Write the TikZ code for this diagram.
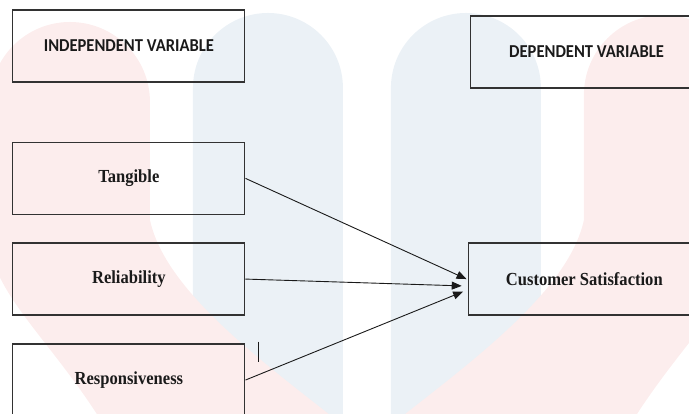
\documentclass[tikz,border=0pt]{standalone}
\usepackage{fontspec}
\setmainfont{Liberation Serif}[FakeStretch=0.9]
\newfontfamily\calibfont{Carlito}[FakeStretch=0.91]
\usetikzlibrary{arrows,arrows.meta,calc}
\definecolor{wm_red}{RGB}{252, 237, 237}
\definecolor{wm_blue}{RGB}{235, 241, 246}
\definecolor{box_line}{RGB}{50, 50, 50}
\definecolor{txt}{RGB}{26, 26, 26}
\tikzstyle{hb}=[rectangle,draw=box_line,line width=1.2pt,inner sep=0pt,
  minimum width=232pt,minimum height=72pt,text=txt,
  font=\calibfont\bfseries\fontsize{18.2}{22}\selectfont]
\tikzstyle{vb}=[rectangle,draw=box_line,line width=1.2pt,inner sep=0pt,
  minimum width=232pt,minimum height=72pt,text=txt,
  font=\bfseries\fontsize{18.4}{22}\selectfont]
\tikzstyle{arr}=[draw=txt,line width=0.9pt,-{Triangle[length=10pt,width=8pt]}]
\tikzstyle{none}=[]

\begin{document}
\begin{tikzpicture}
    \useasboundingbox (0, 0) rectangle (24.22, -14.55);
    \clip (0, 0) rectangle (24.22, -14.55);
    \begin{scope}[shift={(0, -14.55)}, x=1pt, y=1pt]
        \fill [wm_blue] (193, -5) -- (193, 326) arc (180:0:75) -- (343, -5) -- cycle;
        \fill [wm_blue] (391, -5) -- (391, 326) arc (180:0:75) -- (541, -5) -- cycle;
        \fill [wm_red] (-10, 312) arc (180:0:80) -- (150, 194)
            .. controls (165, 124) and (260, 54) .. (335, -5) -- (100, -5)
            .. controls (50, 74) and (-10, 124) .. (-10, 174) -- cycle;
        \fill [wm_red] (584, 319) arc (180:0:80) -- (744, 174)
            .. controls (744, 124) and (684, 74) .. (634, -5) -- (399, -5)
            .. controls (474, 54) and (569, 124) .. (584, 194) -- cycle;
    \end{scope}
            \node [style=hb] (0) at (4.53, -1.62) {INDEPENDENT VARIABLE};
            \node [style=hb] (1) at (20.62, -1.83) {DEPENDENT VARIABLE};
            \node [style=vb] (2) at (4.53, -6.27) {Tangible};
            \node [style=vb] (3) at (4.53, -9.81) {Reliability};
            \node [style=vb] (4) at (4.53, -13.36) {Responsiveness};
            \node [style=vb] (5) at (20.54, -9.81) {Customer Satisfaction};
            \coordinate (6) at (16.40, -9.81);
            \coordinate (7) at (16.23, -10.05);
            \coordinate (8) at (16.28, -10.25);
            \coordinate (9) at (9.10, -12.01);
            \coordinate (10) at (9.10, -12.71);
            \draw [style=arr] (2.east) to (6);
            \draw [style=arr] (3.east) to (7);
            \draw [style=arr] (4.east) to (8);
            \draw [draw=txt, line width=0.9pt] (9) to (10);
\end{tikzpicture}
\end{document}
